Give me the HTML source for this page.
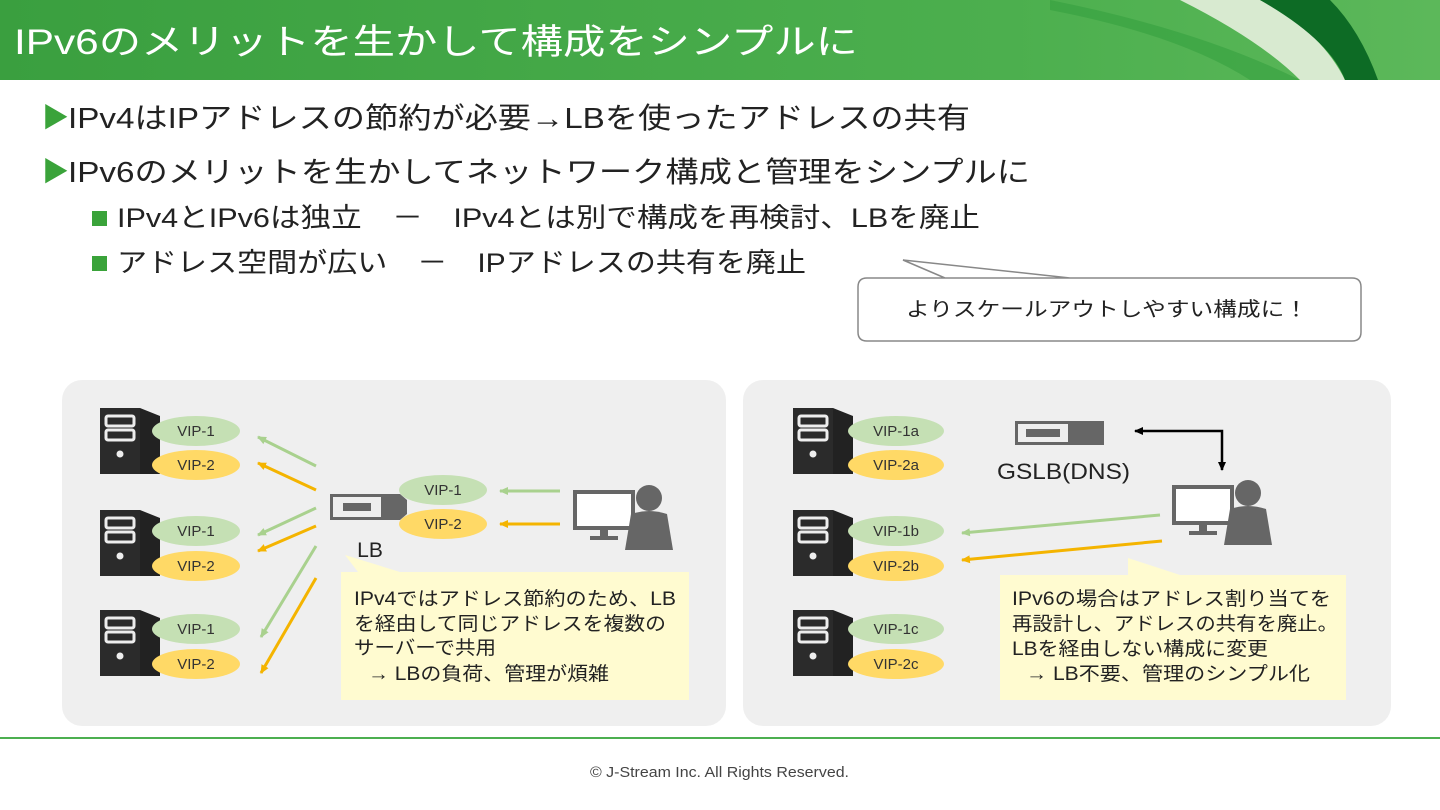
<!DOCTYPE html>
<html><head><meta charset="utf-8"><style>
body{margin:0;width:1440px;height:810px;overflow:hidden;background:#fff}
svg{display:block}
text{font-family:"Liberation Sans","Noto Sans CJK JP",sans-serif}
</style></head><body>
<svg width="1440" height="810" viewBox="0 0 1440 810">
<defs>
<linearGradient id="hg" x1="0" x2="1" y1="0" y2="0">
<stop offset="0" stop-color="#3a9f3f"/><stop offset="0.7" stop-color="#4caf4e"/><stop offset="1" stop-color="#5cb85a"/></linearGradient>
<g id="srv">
<path d="M0 0 H40 L60 8 V66 L40 66 H0 Z" fill="#222"/>
<rect x="0" y="0" width="40" height="66" fill="#2b2b2b"/>
<rect x="6" y="8" width="28" height="10" rx="2" fill="none" stroke="#eee" stroke-width="3"/>
<rect x="6" y="22" width="28" height="10" rx="2" fill="none" stroke="#eee" stroke-width="3"/>
<circle cx="20" cy="46" r="3.5" fill="#eee"/>
</g>
<g id="pc">
<rect x="0" y="0" width="62" height="40" fill="#666"/>
<rect x="4" y="4" width="54" height="32" fill="#fff"/>
<rect x="27" y="40" width="8" height="6" fill="#666"/>
<rect x="17" y="46" width="28" height="4" fill="#666"/>
<circle cx="76" cy="8" r="13" fill="#666"/>
<path d="M58 24 Q76 18 94 24 L100 60 H52 Z" fill="#666"/>
</g>
<marker id="ag" markerUnits="userSpaceOnUse" markerWidth="10" markerHeight="10" refX="8" refY="5" orient="auto"><path d="M0 1 L9 5 L0 9Z" fill="#a9d18e"/></marker>
<marker id="ao" markerUnits="userSpaceOnUse" markerWidth="10" markerHeight="10" refX="8" refY="5" orient="auto"><path d="M0 1 L9 5 L0 9Z" fill="#f4b400"/></marker>
<marker id="ak" markerUnits="userSpaceOnUse" markerWidth="10" markerHeight="10" refX="8" refY="5" orient="auto-start-reverse"><path d="M0 1 L9 5 L0 9Z" fill="#000"/></marker>
</defs>
<!-- header -->
<rect x="0" y="0" width="1440" height="80" fill="url(#hg)"/>
<path d="M1180 0 Q1260 40 1300 80 H1345 Q1320 30 1260 0Z" fill="#d8ead0"/>
<path d="M1260 0 Q1330 40 1345 80 H1378 Q1360 30 1330 0Z" fill="#0d6b25"/>
<path d="M1050 0 Q1200 30 1300 80 H1250 Q1180 35 1050 10Z" fill="#36a040" opacity=".6"/>
<text x="14" y="54" font-size="35" fill="#fff" textLength="844" lengthAdjust="spacingAndGlyphs">IPv6のメリットを生かして構成をシンプルに</text>
<!-- bullets -->
<text x="42" y="127" font-size="27" fill="#3aa33a">▶</text>
<text x="68" y="128" font-size="29" fill="#222" textLength="902" lengthAdjust="spacingAndGlyphs">IPv4はIPアドレスの節約が必要→LBを使ったアドレスの共有</text>
<text x="42" y="181" font-size="27" fill="#3aa33a">▶</text>
<text x="68" y="182" font-size="29" fill="#222" textLength="962" lengthAdjust="spacingAndGlyphs">IPv6のメリットを生かしてネットワーク構成と管理をシンプルに</text>
<rect x="92" y="211" width="15" height="15" fill="#3aa33a"/>
<text x="117" y="227" font-size="27" fill="#222" xml:space="preserve" textLength="863" lengthAdjust="spacingAndGlyphs">IPv4とIPv6は独立　－　IPv4とは別で構成を再検討、LBを廃止</text>
<rect x="92" y="256" width="15" height="15" fill="#3aa33a"/>
<text x="117" y="272" font-size="27" fill="#222" xml:space="preserve" textLength="689" lengthAdjust="spacingAndGlyphs">アドレス空間が広い　－　IPアドレスの共有を廃止</text>
<!-- callout -->
<path d="M868 278 H1352 Q1361 278 1361 287 V332 Q1361 341 1352 341 H867 Q858 341 858 332 V287 Q858 278 867 278 H945 L903 260 L1070 278" fill="#fff" stroke="#888" stroke-width="1.5"/>
<text x="906" y="316" font-size="20" fill="#222" textLength="402" lengthAdjust="spacingAndGlyphs">よりスケールアウトしやすい構成に！</text>
<!-- panels -->
<rect x="62" y="380" width="664" height="346" rx="20" fill="#efefef"/>
<rect x="743" y="380" width="648" height="346" rx="20" fill="#efefef"/>
<g font-size="15" text-anchor="middle" fill="#333">
<use href="#srv" x="100" y="408"/><use href="#srv" x="100" y="510"/><use href="#srv" x="100" y="610"/>
<ellipse cx="196" cy="431" rx="44" ry="15" fill="#c5e0b4"/><text x="196" y="436">VIP-1</text>
<ellipse cx="196" cy="465" rx="44" ry="15" fill="#ffd966"/><text x="196" y="470">VIP-2</text>
<ellipse cx="196" cy="531" rx="44" ry="15" fill="#c5e0b4"/><text x="196" y="536">VIP-1</text>
<ellipse cx="196" cy="566" rx="44" ry="15" fill="#ffd966"/><text x="196" y="571">VIP-2</text>
<ellipse cx="196" cy="629" rx="44" ry="15" fill="#c5e0b4"/><text x="196" y="634">VIP-1</text>
<ellipse cx="196" cy="664" rx="44" ry="15" fill="#ffd966"/><text x="196" y="669">VIP-2</text>
<!-- LB -->
<path d="M330 494 H400 L407 500 V514 L400 520 H330Z" fill="#666"/>
<rect x="333" y="497" width="48" height="20" fill="#eee"/>
<rect x="343" y="503" width="28" height="8" fill="#666"/>
<ellipse cx="443" cy="490" rx="44" ry="15" fill="#c5e0b4"/><text x="443" y="495">VIP-1</text>
<ellipse cx="443" cy="524" rx="44" ry="15" fill="#ffd966"/><text x="443" y="529">VIP-2</text>
<text x="370" y="557" font-size="21" fill="#222">LB</text>
<use href="#pc" x="573" y="490"/>
<g stroke-width="3">
<line x1="560" y1="491" x2="500" y2="491" stroke="#a9d18e" marker-end="url(#ag)"/>
<line x1="560" y1="524" x2="500" y2="524" stroke="#f4b400" marker-end="url(#ao)"/>
<line x1="316" y1="466" x2="258" y2="437" stroke="#a9d18e" marker-end="url(#ag)"/>
<line x1="316" y1="490" x2="258" y2="463" stroke="#f4b400" marker-end="url(#ao)"/>
<line x1="316" y1="508" x2="258" y2="535" stroke="#a9d18e" marker-end="url(#ag)"/>
<line x1="316" y1="526" x2="258" y2="551" stroke="#f4b400" marker-end="url(#ao)"/>
<line x1="316" y1="546" x2="261" y2="637" stroke="#a9d18e" marker-end="url(#ag)"/>
<line x1="316" y1="578" x2="261" y2="673" stroke="#f4b400" marker-end="url(#ao)"/>
</g>
<!-- right -->
<use href="#srv" x="793" y="408"/><use href="#srv" x="793" y="510"/><use href="#srv" x="793" y="610"/>
<ellipse cx="896" cy="431" rx="48" ry="15" fill="#c5e0b4"/><text x="896" y="436">VIP-1a</text>
<ellipse cx="896" cy="465" rx="48" ry="15" fill="#ffd966"/><text x="896" y="470">VIP-2a</text>
<ellipse cx="896" cy="531" rx="48" ry="15" fill="#c5e0b4"/><text x="896" y="536">VIP-1b</text>
<ellipse cx="896" cy="566" rx="48" ry="15" fill="#ffd966"/><text x="896" y="571">VIP-2b</text>
<ellipse cx="896" cy="629" rx="48" ry="15" fill="#c5e0b4"/><text x="896" y="634">VIP-1c</text>
<ellipse cx="896" cy="664" rx="48" ry="15" fill="#ffd966"/><text x="896" y="669">VIP-2c</text>
</g>
<rect x="1015" y="421" width="89" height="24" fill="#666"/>
<rect x="1018" y="424" width="50" height="18" fill="#eee"/>
<rect x="1026" y="429" width="34" height="8" fill="#666"/>
<text x="997" y="479" font-size="22" fill="#222" textLength="133" lengthAdjust="spacingAndGlyphs">GSLB(DNS)</text>
<path d="M1135 431 H1222 V470" fill="none" stroke="#000" stroke-width="2.5" marker-start="url(#ak)" marker-end="url(#ak)"/>
<use href="#pc" x="1172" y="485"/>
<line x1="1160" y1="515" x2="962" y2="533" stroke="#a9d18e" stroke-width="3" marker-end="url(#ag)"/>
<line x1="1162" y1="541" x2="962" y2="560" stroke="#f4b400" stroke-width="3" marker-end="url(#ao)"/>
<!-- notes -->
<path d="M341 572 H358 L345 555 L400 572 H689 V700 H341Z" fill="#fffbd0"/>
<g font-size="19" fill="#222">
<text x="354" y="605" textLength="322" lengthAdjust="spacingAndGlyphs">IPv4ではアドレス節約のため、LB</text>
<text x="354" y="630" textLength="312" lengthAdjust="spacingAndGlyphs">を経由して同じアドレスを複数の</text>
<text x="354" y="654" textLength="142" lengthAdjust="spacingAndGlyphs">サーバーで共用</text>
<text x="368" y="680" textLength="241" lengthAdjust="spacingAndGlyphs">→ LBの負荷、管理が煩雑</text>
</g>
<path d="M1000 575 H1128 L1128 558 L1180 575 H1346 V700 H1000Z" fill="#fffbd0"/>
<g font-size="19" fill="#222">
<text x="1012" y="605" textLength="319" lengthAdjust="spacingAndGlyphs">IPv6の場合はアドレス割り当てを</text>
<text x="1012" y="630" textLength="326" lengthAdjust="spacingAndGlyphs">再設計し、アドレスの共有を廃止。</text>
<text x="1012" y="655" textLength="256" lengthAdjust="spacingAndGlyphs">LBを経由しない構成に変更</text>
<text x="1026" y="680" textLength="284" lengthAdjust="spacingAndGlyphs">→ LB不要、管理のシンプル化</text>
</g>
<!-- footer -->
<rect x="0" y="737" width="1440" height="2" fill="#4caf50"/>
<text x="590" y="777" font-size="15" fill="#444" textLength="259" lengthAdjust="spacingAndGlyphs">© J-Stream Inc. All Rights Reserved.</text>
</svg>
</body></html>
